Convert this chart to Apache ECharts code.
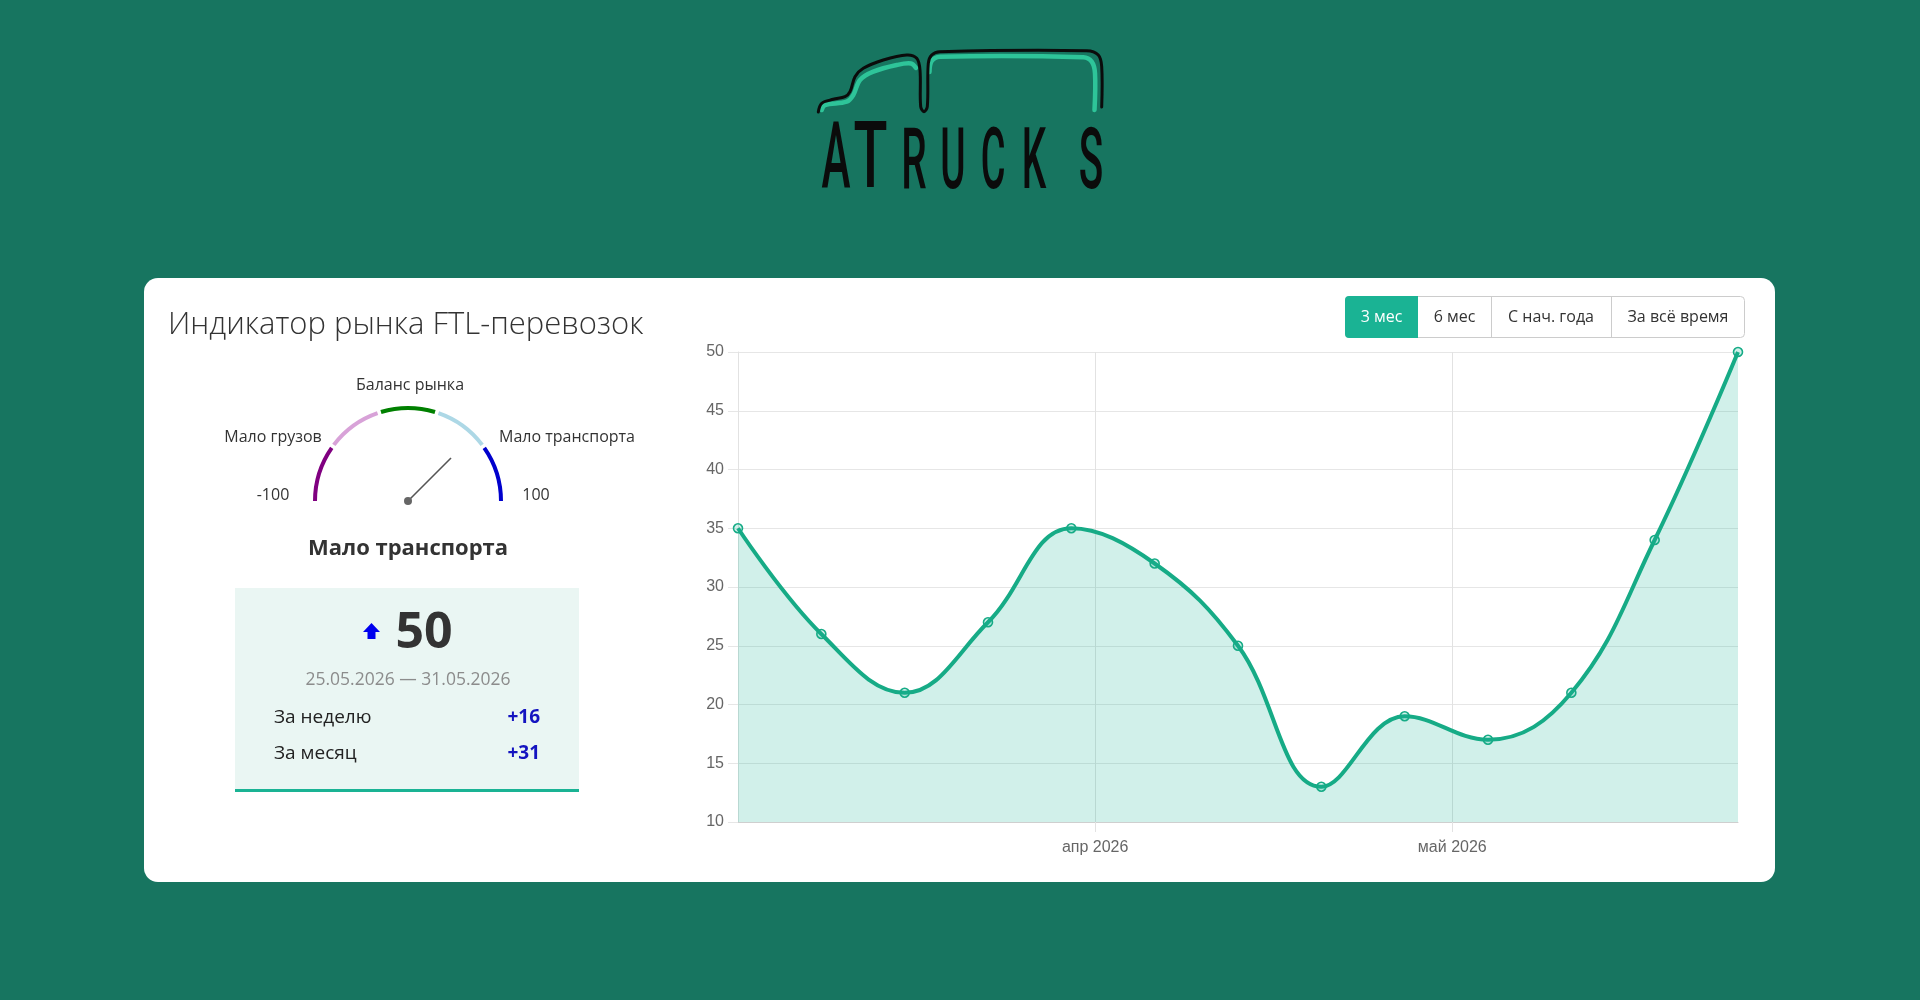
<!DOCTYPE html>
<html>
<head>
<meta charset="utf-8">
<script src="https://cdn.jsdelivr.net/npm/echarts@6/dist/echarts.min.js"></script>
<style>
  html, body { margin: 0; padding: 0; background: #177560; }
  #main { width: 1920px; height: 1000px; }
</style>
</head>
<body>
<div id="main"></div>
<script>
// ---------- DATA ----------
const weekDates = ['2026-03-02','2026-03-09','2026-03-16','2026-03-23','2026-03-30','2026-04-06','2026-04-13','2026-04-20','2026-04-27','2026-05-04','2026-05-11','2026-05-18','2026-05-25'];
const indexValues = [35, 26, 21, 27, 35, 32, 25, 13, 19, 17, 21, 34, 50];
const yMin = 10, yMax = 50, yInterval = 5;
const monthTicks = ['2026-04-01', '2026-05-01'];
const monthLabels = ['апр 2026', 'май 2026'];

const gaugeMin = -100, gaugeMax = 100;
const gaugeValue = 50;
const gaugeBandEdges = [-100, -60, -20, 20, 60, 100];
const gaugeEndLabels = ['-100', '100'];
const zoneLabels = ['Мало грузов', 'Баланс рынка', 'Мало транспорта'];
const currentZone = 'Мало транспорта';

const titleText = 'Индикатор рынка FTL-перевозок';
const periodButtons = ['3 мес', '6 мес', 'С нач. года', 'За всё время'];
const weekRange = '25.05.2026 — 31.05.2026';
const changeLabels = ['За неделю', 'За месяц'];
const changeValues = ['+16', '+31'];
const logoLetters = ['A', 'T', 'R', 'U', 'C', 'K', 'S'];

// ---------- STYLES ----------
const bandColors = ['#800080', '#d8a2d8', '#008000', '#add8e6', '#0000cd'];
const teal = '#16ab86';
const sansUI = '"Open Sans", "Noto Sans", sans-serif';
const sansChart = '"Liberation Sans", Arial, Helvetica, sans-serif';

function ts(s) { const p = s.split('-').map(Number); return new Date(p[0], p[1] - 1, p[2]).getTime(); }
const monthTickTs = monthTicks.map(ts);

const chart = echarts.init(document.getElementById('main'), null, { renderer: 'canvas' });

// gauge geometry
const gCenter = [408, 501];
const gRadius = 95;
function angleOf(v) { return 180 - (v - gaugeMin) / (gaugeMax - gaugeMin) * 180; }
const gap = 1.1;
const bandSeries = [];
for (let i = 0; i < gaugeBandEdges.length - 1; i++) {
  const a = gaugeBandEdges[i], b = gaugeBandEdges[i + 1];
  bandSeries.push({
    type: 'gauge', center: gCenter, radius: gRadius, silent: true,
    min: gaugeMin, max: gaugeMax,
    startAngle: angleOf(a) - (i > 0 ? gap : 0),
    endAngle: angleOf(b) + (i < gaugeBandEdges.length - 2 ? gap : 0),
    axisLine: { lineStyle: { width: 4, color: [[1, bandColors[i]]] } },
    axisTick: { show: false }, splitLine: { show: false }, axisLabel: { show: false },
    pointer: { show: false }, anchor: { show: false }, title: { show: false }, detail: { show: false },
    data: []
  });
}

// logo (decorative lettering)
const letterStyle = [
  { x: 836, y: 164, size: 93, sx: 0.47 },
  { x: 870.5, y: 164, size: 93, sx: 0.60 },
  { x: 914, y: 166.5, size: 86, sx: 0.47 },
  { x: 953, y: 166.5, size: 86, sx: 0.45 },
  { x: 993, y: 166.5, size: 86, sx: 0.44 },
  { x: 1034, y: 166.5, size: 86, sx: 0.45 },
  { x: 1091, y: 166.5, size: 86, sx: 0.47 }
];
const logoGraphics = logoLetters.map((ch, i) => ({
  type: 'text', x: letterStyle[i].x, y: letterStyle[i].y, scaleX: letterStyle[i].sx, z: 10,
  style: { text: ch, font: '500 ' + letterStyle[i].size + 'px Roboto', fill: '#0b0b0b', textAlign: 'center', textVerticalAlign: 'middle' }
}));
const blackPath = [[818.3,112],[821.7,103.3],[833.3,99.3],[845,96.7],[850,91.7],[855,76.7],[863.3,68.3],[883.3,60],[906.7,55],[916.7,58.3],[920,70],[920.7,106.7],[924,111.7],[927.3,106.7],[928.3,63.3],[931.7,55],[940,51.7],[1086.7,50.7],[1098.3,55],[1101.7,66.7],[1101.7,107]];
const tealCab = [[821.7,110],[825,105],[846.7,101.7],[853.3,95],[860,80],[873.3,71.7],[896.7,65],[911,63.5],[916,68]];
const tealBox = [[929.5,72],[931.7,61],[940,56.7],[1083.3,57.3],[1091.7,61.7],[1095,73.3],[1094.5,110]];
logoGraphics.push(
  { type: 'polyline', z: 9, shape: { points: tealCab, smooth: 0.35 }, style: { stroke: '#2ec499', lineWidth: 4.5, fill: null, lineCap: 'round' } },
  { type: 'polyline', z: 9, shape: { points: tealBox, smooth: 0.35 }, style: { stroke: '#2ec499', lineWidth: 4.5, fill: null, lineCap: 'round' } },
  { type: 'polyline', z: 10, shape: { points: blackPath, smooth: 0.35 }, style: { stroke: '#0b0b0b', lineWidth: 3, fill: null, lineCap: 'round', lineJoin: 'round' } }
);

// buttons
const btnEdges = [1345, 1418, 1491, 1611, 1745];
const btnTop = 296, btnH = 41;
const buttonGraphics = [
  { type: 'rect', z: 5, shape: { x: btnEdges[0] + 0.5, y: btnTop + 0.5, width: btnEdges[4] - btnEdges[0] - 1, height: btnH, r: 4 }, style: { fill: '#fff', stroke: '#cccccc', lineWidth: 1 } },
  { type: 'rect', z: 6, shape: { x: btnEdges[0], y: btnTop, width: btnEdges[1] - btnEdges[0], height: btnH + 1, r: [4, 0, 0, 4] }, style: { fill: '#1ab394' } }
];
for (let i = 2; i < 4; i++) {
  buttonGraphics.push({ type: 'line', z: 6, shape: { x1: btnEdges[i] + 0.5, y1: btnTop, x2: btnEdges[i] + 0.5, y2: btnTop + btnH + 1 }, style: { stroke: '#cccccc', lineWidth: 1 } });
}
periodButtons.forEach((t, i) => {
  buttonGraphics.push({ type: 'text', z: 7, style: { text: t, x: (btnEdges[i] + btnEdges[i + 1]) / 2, y: btnTop + btnH / 2 + 0.5, font: '400 16px ' + sansUI, fill: i === 0 ? '#ffffff' : '#333333', textAlign: 'center', textVerticalAlign: 'middle' } });
});

const graphics = [
  { type: 'rect', z: 0, shape: { x: 144, y: 278, width: 1631, height: 604, r: 14 }, style: { fill: '#ffffff' } },
  { type: 'text', z: 5, style: { text: titleText, x: 168, y: 325, font: '300 31px ' + sansUI, fill: '#333333', textAlign: 'left', textVerticalAlign: 'middle' } },
  { type: 'text', z: 5, style: { text: gaugeEndLabels[0], x: 273, y: 495, font: '400 16px ' + sansUI, fill: '#333', textAlign: 'center', textVerticalAlign: 'middle' } },
  { type: 'text', z: 5, style: { text: gaugeEndLabels[1], x: 536, y: 495, font: '400 16px ' + sansUI, fill: '#333', textAlign: 'center', textVerticalAlign: 'middle' } },
  { type: 'text', z: 5, style: { text: zoneLabels[0], x: 273, y: 437, font: '400 16px ' + sansUI, fill: '#333', textAlign: 'center', textVerticalAlign: 'middle' } },
  { type: 'text', z: 5, style: { text: zoneLabels[1], x: 410, y: 385, font: '400 16px ' + sansUI, fill: '#333', textAlign: 'center', textVerticalAlign: 'middle' } },
  { type: 'text', z: 5, style: { text: zoneLabels[2], x: 567, y: 437, font: '400 16px ' + sansUI, fill: '#333', textAlign: 'center', textVerticalAlign: 'middle' } },
  { type: 'text', z: 5, style: { text: currentZone, x: 408, y: 549, font: '700 22px ' + sansUI, fill: '#333', textAlign: 'center', textVerticalAlign: 'middle' } },
  { type: 'rect', z: 2, shape: { x: 235, y: 588, width: 344, height: 204 }, style: { fill: '#eaf6f3' } },
  { type: 'rect', z: 3, shape: { x: 235, y: 789, width: 344, height: 3 }, style: { fill: '#1ab394' } },
  { type: 'polygon', z: 5, shape: { points: [[371.5, 623], [363, 632], [367.5, 632], [367.5, 639], [375.5, 639], [375.5, 632], [380, 632]] }, style: { fill: '#0000ee' } },
  { type: 'text', z: 5, style: { text: String(gaugeValue), x: 424, y: 634, font: '700 50px ' + sansUI, fill: '#333333', textAlign: 'center', textVerticalAlign: 'middle' } },
  { type: 'text', z: 5, style: { text: weekRange, x: 408, y: 680, font: '400 17.5px ' + sansUI, fill: '#8c8c8c', textAlign: 'center', textVerticalAlign: 'middle' } },
  { type: 'text', z: 5, style: { text: changeLabels[0], x: 274, y: 717.5, font: '400 19px ' + sansUI, fill: '#222', textAlign: 'left', textVerticalAlign: 'middle' } },
  { type: 'text', z: 5, style: { text: changeLabels[1], x: 274, y: 754, font: '400 19px ' + sansUI, fill: '#222', textAlign: 'left', textVerticalAlign: 'middle' } },
  { type: 'text', z: 5, style: { text: changeValues[0], x: 540, y: 717.5, font: '700 19px ' + sansUI, fill: '#1414c0', textAlign: 'right', textVerticalAlign: 'middle' } },
  { type: 'text', z: 5, style: { text: changeValues[1], x: 540, y: 754, font: '700 19px ' + sansUI, fill: '#1414c0', textAlign: 'right', textVerticalAlign: 'middle' } }
].concat(logoGraphics, buttonGraphics);

const option = {
  backgroundColor: '#177560',
  animation: false,
  textStyle: { fontFamily: sansChart },
  graphic: { elements: graphics },
  grid: { left: 738, right: 182, top: 352, bottom: 178, containLabel: false },
  xAxis: {
    type: 'value', min: ts(weekDates[0]), max: ts(weekDates[weekDates.length - 1]),
    axisLine: { show: true, lineStyle: { color: '#cfcfcf', width: 1 } },
    axisTick: { show: true, customValues: monthTickTs, length: 10, lineStyle: { color: '#e2e2e2' } },
    axisLabel: {
      customValues: monthTickTs, margin: 18, color: '#666', fontSize: 16, fontFamily: sansChart,
      formatter: function (v) { const i = monthTickTs.indexOf(+v); return i >= 0 ? monthLabels[i] : ''; }
    },
    splitLine: { show: true, lineStyle: { color: '#e2e2e2', width: 1 } }
  },
  yAxis: {
    type: 'value', min: yMin, max: yMax, interval: yInterval,
    axisLine: { show: true, lineStyle: { color: '#e2e2e2', width: 1 } },
    axisTick: { show: true, length: 10, lineStyle: { color: '#e6e6e6' } },
    axisLabel: { margin: 14, color: '#666', fontSize: 16, fontFamily: sansChart },
    splitLine: { show: true, lineStyle: { color: '#e6e6e6', width: 1 } }
  },
  series: bandSeries.concat([
    {
      type: 'gauge', center: gCenter, radius: gRadius, min: gaugeMin, max: gaugeMax,
      startAngle: 180, endAngle: 0, silent: true,
      axisLine: { show: false }, axisTick: { show: false }, splitLine: { show: false }, axisLabel: { show: false },
      pointer: { show: true, icon: 'rect', length: '64%', width: 1.6, itemStyle: { color: '#555' } },
      anchor: { show: true, showAbove: true, size: 8, itemStyle: { color: '#666' } },
      title: { show: false }, detail: { show: false },
      data: [{ value: gaugeValue }]
    },
    {
      type: 'line', clip: false, smooth: 0.4,
      data: weekDates.map((d, i) => [ts(d), indexValues[i]]),
      symbol: 'circle', symbolSize: 9,
      itemStyle: { color: 'rgba(26,179,148,0.2)', borderColor: teal, borderWidth: 1.6 },
      lineStyle: { color: teal, width: 4 },
      areaStyle: { color: 'rgba(26,179,148,0.2)', opacity: 1, origin: 'start' },
      z: 3
    }
  ])
};
chart.setOption(option);
</script>
</body>
</html>
